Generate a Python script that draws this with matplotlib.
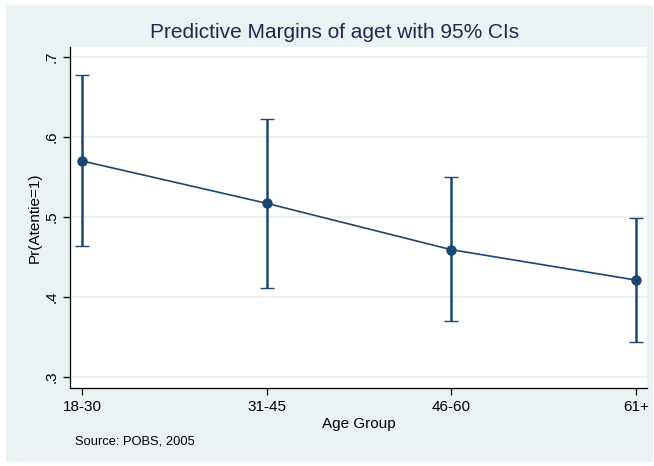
import numpy as np
import matplotlib.pyplot as plt
from matplotlib.patches import Rectangle

plt.rcParams['font.family'] = ['Liberation Sans', 'DejaVu Sans']

groups = ['18-30', '31-45', '46-60', '61+']
margins = [0.570, 0.517, 0.459, 0.421]
ci_low = [0.463, 0.411, 0.370, 0.344]
ci_high = [0.677, 0.622, 0.550, 0.498]

navy = '#1a476f'
bg = '#eaf2f3'
W, H = 654, 466

fig = plt.figure(figsize=(W / 100, H / 100), dpi=100)
fig.patch.set_facecolor('white')
# outer graph region (Stata style)
fig.patches.append(Rectangle((6 / W, 4 / H), 647 / W, 457 / H,
                             transform=fig.transFigure, facecolor=bg,
                             edgecolor='none', zorder=-1))

ax = fig.add_axes([70 / W, (H - 388) / H, 577 / W, 341 / H])
ax.set_facecolor('white')

x = np.arange(1, len(groups) + 1)
m = np.array(margins)
yerr = [m - np.array(ci_low), np.array(ci_high) - m]
ax.errorbar(x, m, yerr=yerr, color=navy, lw=1.2, elinewidth=1.8,
            capsize=5, capthick=1.0, marker='o', ms=6.5, zorder=3)

ax.set_xlim(0.935, 4.06)
ax.set_ylim(0.286, 0.7125)
ax.set_xticks(x)
ax.set_xticklabels(groups, fontsize=11)
yt = [0.3, 0.4, 0.5, 0.6, 0.7]
ax.set_yticks(yt)
ax.set_yticklabels(['.3', '.4', '.5', '.6', '.7'], fontsize=11,
                   rotation=90, va='center')
ax.grid(axis='y', color=bg, lw=1.5)
ax.set_axisbelow(True)
for s in ['top', 'right']:
    ax.spines[s].set_visible(False)
for s in ['left', 'bottom']:
    ax.spines[s].set_linewidth(0.9)
ax.tick_params(length=5, width=0.9, color='black')

ax.set_xlabel('Age Group', fontsize=11, labelpad=2)
ax.set_ylabel('Pr(Atentie=1)', fontsize=11, labelpad=2)

fig.text(335 / W, 1 - 33 / H, 'Predictive Margins of aget with 95% CIs',
         ha='center', va='center', fontsize=15, color='#1e2850')
fig.text(75 / W, 1 - 442 / H, 'Source: POBS, 2005', ha='left',
         va='center', fontsize=9.3)

fig.savefig('out.png', dpi=100)
